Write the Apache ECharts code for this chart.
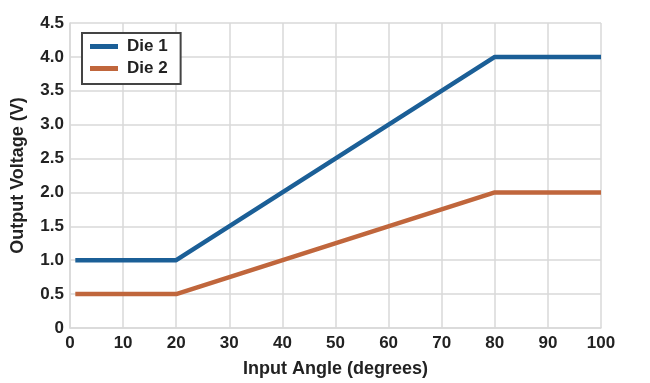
<!DOCTYPE html>
<html>
<head>
<meta charset="utf-8">
<script src="https://cdn.jsdelivr.net/npm/echarts@6/dist/echarts.min.js"></script>
<style>html,body{margin:0;padding:0;background:#fff;}#c{width:650px;height:383px;}</style>
</head>
<body>
<div id="c"></div>
<script>
const die1X = [1, 20, 80, 100];
const die1Y = [1.0, 1.0, 4.0, 4.0];
const die2X = [1, 20, 80, 100];
const die2Y = [0.5, 0.5, 2.0, 2.0];
const seriesNames = ['Die 1', 'Die 2'];
const xTitle = 'Input Angle (degrees)';
const yTitle = 'Output Voltage (V)';

const font = 'Liberation Sans, Arial, sans-serif';
const chart = echarts.init(document.getElementById('c'));
const gridColor = '#d9d9d9';
chart.setOption({
  animation: false,
  backgroundColor: '#fff',
  grid: {left: 70, right: 49, top: 23, bottom: 55},
  legend: {
    left: 82, top: 33, orient: 'vertical',
    itemWidth: 28, itemHeight: 5, itemGap: 5,
    icon: 'rect',
    borderColor: '#444', borderWidth: 2,
    backgroundColor: '#fff',
    padding: [5, 13, 7, 8],
    textStyle: {fontFamily: font, fontWeight: 'bold', fontSize: 17, color: '#222', padding: [0,0,0,4]},
    data: seriesNames
  },
  xAxis: {
    type: 'value', min: 0, max: 100, interval: 10,
    name: xTitle, nameLocation: 'middle', nameGap: 32,
    nameTextStyle: {fontFamily: font, fontWeight: 'bold', fontSize: 18, color: '#222'},
    axisLine: {lineStyle: {color: gridColor, width: 1.5}},
    axisTick: {show: false},
    axisLabel: {fontFamily: font, fontWeight: 'bold', fontSize: 17, color: '#222', margin: 7},
    splitLine: {show: true, lineStyle: {color: gridColor, width: 1.5}}
  },
  yAxis: {
    type: 'value', min: 0, max: 4.5, interval: 0.5,
    name: yTitle, nameLocation: 'middle', nameGap: 43, nameRotate: 90,
    nameTextStyle: {fontFamily: font, fontWeight: 'bold', fontSize: 18, color: '#222'},
    axisLine: {show: true, lineStyle: {color: gridColor, width: 1.5}},
    axisTick: {show: false},
    axisLabel: {fontFamily: font, fontWeight: 'bold', fontSize: 17, color: '#222', margin: 6,
      formatter: v => v === 0 ? '0' : v.toFixed(1)},
    splitLine: {show: true, lineStyle: {color: gridColor, width: 1.5}}
  },
  series: [
    {name: seriesNames[0], type: 'line', data: die1X.map((x, i) => [x, die1Y[i]]),
     showSymbol: false, lineStyle: {color: '#1b5f97', width: 4.5}, itemStyle: {color: '#1b5f97'}},
    {name: seriesNames[1], type: 'line', data: die2X.map((x, i) => [x, die2Y[i]]),
     showSymbol: false, lineStyle: {color: '#c0663c', width: 4.5}, itemStyle: {color: '#c0663c'}}
  ]
});
</script>
</body>
</html>
